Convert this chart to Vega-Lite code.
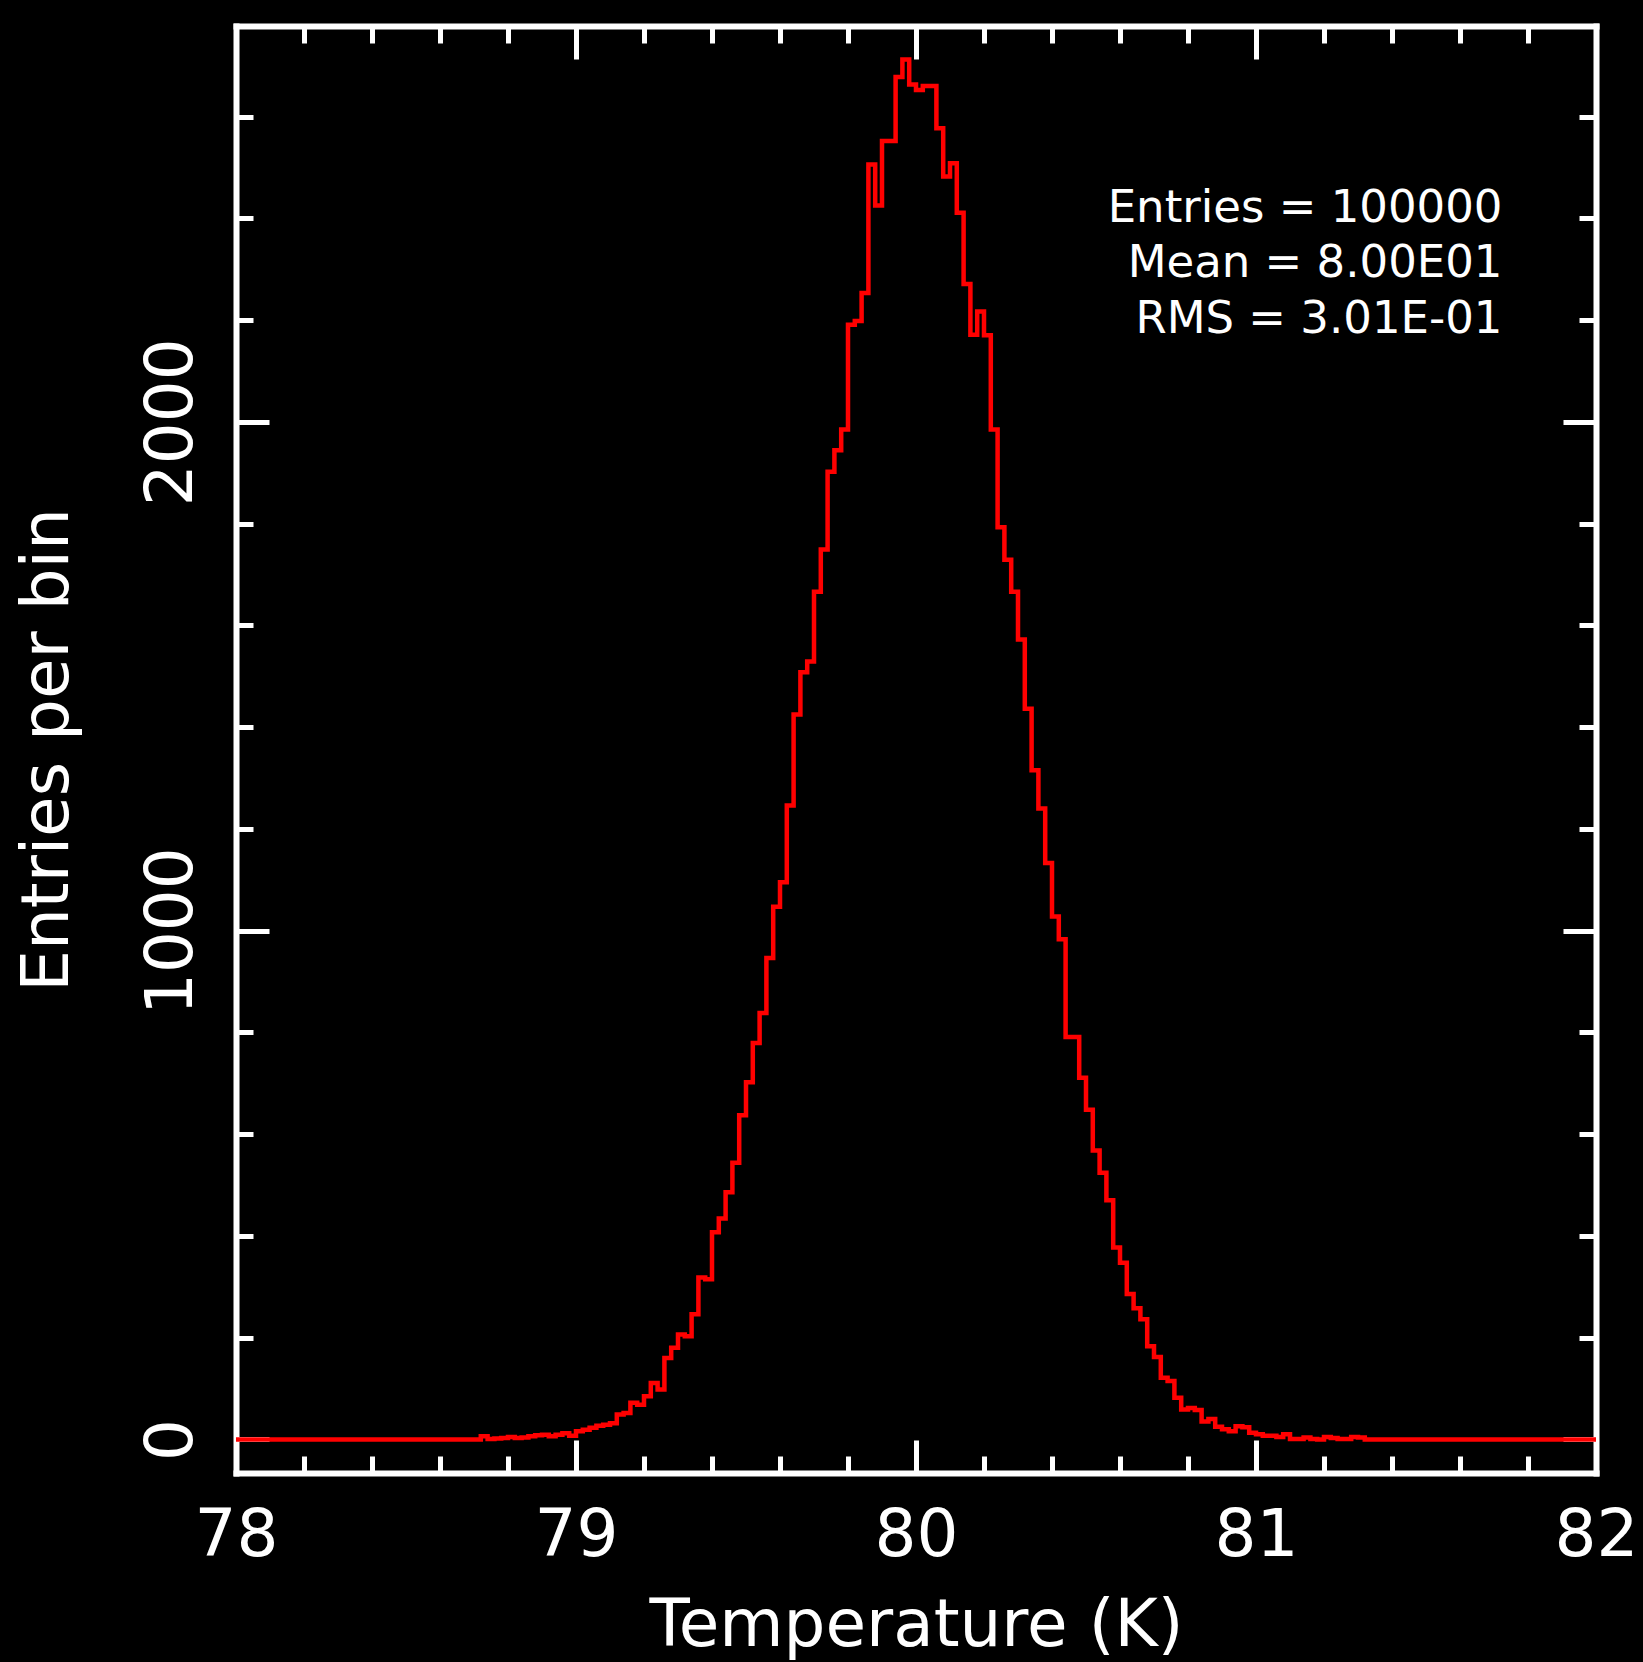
{
  "$schema": "https://vega.github.io/schema/vega-lite/v6.json",
  "width": 1360,
  "height": 1447,
  "autosize": {"type": "none"},
  "padding": {"left": 236, "top": 26, "right": 47, "bottom": 189},
  "background": "black",
  "config": {
    "view": {"stroke": null},
    "axis": {"grid": false, "domainColor": "white", "tickColor": "white", "labelColor": "white", "titleColor": "white", "domainWidth": 6, "tickWidth": 5, "domainCap": "square", "labelFont": "DejaVu Sans", "titleFont": "DejaVu Sans", "labelFontSize": 66, "titleFontSize": 66, "titleFontWeight": "normal", "labelFlush": false, "labelOverlap": false}
  },
  "resolve": {"scale": {"x": "shared", "y": "shared"}, "axis": {"x": "independent", "y": "independent"}},
  "layer": [
    {
      "data": {"name": "hist"},
      "mark": {"type": "line", "interpolate": "step-after", "color": "#ff0000", "strokeWidth": 4.5},
      "encoding": {
        "x": {"field": "temperature", "type": "quantitative", "scale": {"domain": [78, 82], "nice": false, "zero": false},
              "axis": {"orient": "bottom", "values": [78, 79, 80, 81, 82], "format": "d", "tickSize": -33, "labelBaseline": "alphabetic", "labelPadding": 115, "title": "Temperature (K)", "titleBaseline": "alphabetic", "titleY": 172}},
        "y": {"field": "entries", "type": "quantitative", "scale": {"domain": [-66, 2778], "nice": false, "zero": false},
              "axis": {"orient": "left", "values": [0, 1000, 2000], "format": "d", "tickSize": -33, "labelAngle": 270, "labelAlign": "center", "labelBaseline": "alphabetic", "labelPadding": 78, "title": "Entries per bin", "titleAngle": 270, "titleBaseline": "alphabetic", "titleX": -169}}
      }
    },
    {
      "data": {"name": "hist"},
      "mark": {"type": "line", "interpolate": "step-after", "strokeOpacity": 0},
      "encoding": {
        "x": {"field": "temperature", "type": "quantitative",
              "axis": {"orient": "bottom", "values": [78.2, 78.4, 78.6, 78.8, 79.2, 79.4, 79.6, 79.8, 80.2, 80.4, 80.6, 80.8, 81.2, 81.4, 81.6, 81.8], "tickSize": -17, "labels": false, "domain": false, "title": null}},
        "y": {"field": "entries", "type": "quantitative",
              "axis": {"orient": "left", "values": [200, 400, 600, 800, 1200, 1400, 1600, 1800, 2200, 2400, 2600], "tickSize": -17, "labels": false, "domain": false, "title": null}}
      }
    },
    {
      "data": {"name": "hist"},
      "mark": {"type": "line", "interpolate": "step-after", "strokeOpacity": 0},
      "encoding": {
        "x": {"field": "temperature", "type": "quantitative",
              "axis": {"orient": "top", "values": [78, 79, 80, 81, 82], "tickSize": -33, "labels": false, "title": null}},
        "y": {"field": "entries", "type": "quantitative",
              "axis": {"orient": "right", "values": [0, 1000, 2000], "tickSize": -33, "labels": false, "title": null}}
      }
    },
    {
      "data": {"name": "hist"},
      "mark": {"type": "line", "interpolate": "step-after", "strokeOpacity": 0},
      "encoding": {
        "x": {"field": "temperature", "type": "quantitative",
              "axis": {"orient": "top", "values": [78.2, 78.4, 78.6, 78.8, 79.2, 79.4, 79.6, 79.8, 80.2, 80.4, 80.6, 80.8, 81.2, 81.4, 81.6, 81.8], "tickSize": -17, "labels": false, "domain": false, "title": null}},
        "y": {"field": "entries", "type": "quantitative",
              "axis": {"orient": "right", "values": [200, 400, 600, 800, 1200, 1400, 1600, 1800, 2200, 2400, 2600], "tickSize": -17, "labels": false, "domain": false, "title": null}}
      }
    },
    {
      "data": {"values": [{"stats": "Entries = 100000\nMean = 8.00E01\nRMS = 3.01E-01"}]},
      "mark": {"type": "text", "align": "right", "baseline": "alphabetic", "lineBreak": "\n", "lineHeight": 55.5, "font": "DejaVu Sans", "fontSize": 45, "color": "white"},
      "encoding": {
        "x": {"datum": 81.725, "type": "quantitative", "axis": null},
        "y": {"datum": 2393, "type": "quantitative", "axis": null},
        "text": {"field": "stats"}
      }
    }
  ],
  "datasets": {
    "hist": [
      {"temperature": 78.00, "entries": 0}, {"temperature": 78.02, "entries": 0}, {"temperature": 78.04, "entries": 0}, {"temperature": 78.06, "entries": 0},
      {"temperature": 78.08, "entries": 0}, {"temperature": 78.10, "entries": 0}, {"temperature": 78.12, "entries": 0}, {"temperature": 78.14, "entries": 0},
      {"temperature": 78.16, "entries": 0}, {"temperature": 78.18, "entries": 0}, {"temperature": 78.20, "entries": 0}, {"temperature": 78.22, "entries": 0},
      {"temperature": 78.24, "entries": 0}, {"temperature": 78.26, "entries": 0}, {"temperature": 78.28, "entries": 0}, {"temperature": 78.30, "entries": 0},
      {"temperature": 78.32, "entries": 0}, {"temperature": 78.34, "entries": 0}, {"temperature": 78.36, "entries": 0}, {"temperature": 78.38, "entries": 0},
      {"temperature": 78.40, "entries": 0}, {"temperature": 78.42, "entries": 0}, {"temperature": 78.44, "entries": 0}, {"temperature": 78.46, "entries": 0},
      {"temperature": 78.48, "entries": 0}, {"temperature": 78.50, "entries": 0}, {"temperature": 78.52, "entries": 0}, {"temperature": 78.54, "entries": 0},
      {"temperature": 78.56, "entries": 0}, {"temperature": 78.58, "entries": 0}, {"temperature": 78.60, "entries": 0}, {"temperature": 78.62, "entries": 0},
      {"temperature": 78.64, "entries": 0}, {"temperature": 78.66, "entries": 0}, {"temperature": 78.68, "entries": 0}, {"temperature": 78.70, "entries": 0},
      {"temperature": 78.72, "entries": 6}, {"temperature": 78.74, "entries": 1}, {"temperature": 78.76, "entries": 2}, {"temperature": 78.78, "entries": 3},
      {"temperature": 78.80, "entries": 5}, {"temperature": 78.82, "entries": 3}, {"temperature": 78.84, "entries": 4}, {"temperature": 78.86, "entries": 6},
      {"temperature": 78.88, "entries": 8}, {"temperature": 78.90, "entries": 9}, {"temperature": 78.92, "entries": 6}, {"temperature": 78.94, "entries": 9},
      {"temperature": 78.96, "entries": 12}, {"temperature": 78.98, "entries": 7}, {"temperature": 79.00, "entries": 16}, {"temperature": 79.02, "entries": 19},
      {"temperature": 79.04, "entries": 23}, {"temperature": 79.06, "entries": 27}, {"temperature": 79.08, "entries": 29}, {"temperature": 79.10, "entries": 32},
      {"temperature": 79.12, "entries": 49}, {"temperature": 79.14, "entries": 52}, {"temperature": 79.16, "entries": 72}, {"temperature": 79.18, "entries": 68},
      {"temperature": 79.20, "entries": 85}, {"temperature": 79.22, "entries": 111}, {"temperature": 79.24, "entries": 98}, {"temperature": 79.26, "entries": 160},
      {"temperature": 79.28, "entries": 180}, {"temperature": 79.30, "entries": 206}, {"temperature": 79.32, "entries": 203}, {"temperature": 79.34, "entries": 246},
      {"temperature": 79.36, "entries": 318}, {"temperature": 79.38, "entries": 315}, {"temperature": 79.40, "entries": 407}, {"temperature": 79.42, "entries": 434},
      {"temperature": 79.44, "entries": 486}, {"temperature": 79.46, "entries": 544}, {"temperature": 79.48, "entries": 637}, {"temperature": 79.50, "entries": 702},
      {"temperature": 79.52, "entries": 779}, {"temperature": 79.54, "entries": 838}, {"temperature": 79.56, "entries": 946}, {"temperature": 79.58, "entries": 1047},
      {"temperature": 79.60, "entries": 1095}, {"temperature": 79.62, "entries": 1246}, {"temperature": 79.64, "entries": 1425}, {"temperature": 79.66, "entries": 1508},
      {"temperature": 79.68, "entries": 1529}, {"temperature": 79.70, "entries": 1666}, {"temperature": 79.72, "entries": 1749}, {"temperature": 79.74, "entries": 1902},
      {"temperature": 79.76, "entries": 1944}, {"temperature": 79.78, "entries": 1985}, {"temperature": 79.80, "entries": 2191}, {"temperature": 79.82, "entries": 2198},
      {"temperature": 79.84, "entries": 2253}, {"temperature": 79.86, "entries": 2506}, {"temperature": 79.88, "entries": 2425}, {"temperature": 79.90, "entries": 2552},
      {"temperature": 79.92, "entries": 2552}, {"temperature": 79.94, "entries": 2678}, {"temperature": 79.96, "entries": 2712}, {"temperature": 79.98, "entries": 2663},
      {"temperature": 80.00, "entries": 2652}, {"temperature": 80.02, "entries": 2660}, {"temperature": 80.04, "entries": 2660}, {"temperature": 80.06, "entries": 2577},
      {"temperature": 80.08, "entries": 2482}, {"temperature": 80.10, "entries": 2508}, {"temperature": 80.12, "entries": 2411}, {"temperature": 80.14, "entries": 2271},
      {"temperature": 80.16, "entries": 2171}, {"temperature": 80.18, "entries": 2217}, {"temperature": 80.20, "entries": 2170}, {"temperature": 80.22, "entries": 1985},
      {"temperature": 80.24, "entries": 1793}, {"temperature": 80.26, "entries": 1729}, {"temperature": 80.28, "entries": 1666}, {"temperature": 80.30, "entries": 1572},
      {"temperature": 80.32, "entries": 1436}, {"temperature": 80.34, "entries": 1315}, {"temperature": 80.36, "entries": 1240}, {"temperature": 80.38, "entries": 1133},
      {"temperature": 80.40, "entries": 1028}, {"temperature": 80.42, "entries": 983}, {"temperature": 80.44, "entries": 791}, {"temperature": 80.46, "entries": 791},
      {"temperature": 80.48, "entries": 711}, {"temperature": 80.50, "entries": 648}, {"temperature": 80.52, "entries": 568}, {"temperature": 80.54, "entries": 524},
      {"temperature": 80.56, "entries": 470}, {"temperature": 80.58, "entries": 377}, {"temperature": 80.60, "entries": 347}, {"temperature": 80.62, "entries": 286},
      {"temperature": 80.64, "entries": 258}, {"temperature": 80.66, "entries": 236}, {"temperature": 80.68, "entries": 183}, {"temperature": 80.70, "entries": 162},
      {"temperature": 80.72, "entries": 121}, {"temperature": 80.74, "entries": 115}, {"temperature": 80.76, "entries": 82}, {"temperature": 80.78, "entries": 59},
      {"temperature": 80.80, "entries": 62}, {"temperature": 80.82, "entries": 58}, {"temperature": 80.84, "entries": 35}, {"temperature": 80.86, "entries": 40},
      {"temperature": 80.88, "entries": 25}, {"temperature": 80.90, "entries": 20}, {"temperature": 80.92, "entries": 16}, {"temperature": 80.94, "entries": 26},
      {"temperature": 80.96, "entries": 24}, {"temperature": 80.98, "entries": 13}, {"temperature": 81.00, "entries": 10}, {"temperature": 81.02, "entries": 7},
      {"temperature": 81.04, "entries": 7}, {"temperature": 81.06, "entries": 5}, {"temperature": 81.08, "entries": 10}, {"temperature": 81.10, "entries": 1},
      {"temperature": 81.12, "entries": 1}, {"temperature": 81.14, "entries": 4}, {"temperature": 81.16, "entries": 1}, {"temperature": 81.18, "entries": 0},
      {"temperature": 81.20, "entries": 5}, {"temperature": 81.22, "entries": 3}, {"temperature": 81.24, "entries": 1}, {"temperature": 81.26, "entries": 1},
      {"temperature": 81.28, "entries": 5}, {"temperature": 81.30, "entries": 4}, {"temperature": 81.32, "entries": 0}, {"temperature": 81.34, "entries": 0},
      {"temperature": 81.36, "entries": 0}, {"temperature": 81.38, "entries": 0}, {"temperature": 81.40, "entries": 0}, {"temperature": 81.42, "entries": 0},
      {"temperature": 81.44, "entries": 0}, {"temperature": 81.46, "entries": 0}, {"temperature": 81.48, "entries": 0}, {"temperature": 81.50, "entries": 0},
      {"temperature": 81.52, "entries": 0}, {"temperature": 81.54, "entries": 0}, {"temperature": 81.56, "entries": 0}, {"temperature": 81.58, "entries": 0},
      {"temperature": 81.60, "entries": 0}, {"temperature": 81.62, "entries": 0}, {"temperature": 81.64, "entries": 0}, {"temperature": 81.66, "entries": 0},
      {"temperature": 81.68, "entries": 0}, {"temperature": 81.70, "entries": 0}, {"temperature": 81.72, "entries": 0}, {"temperature": 81.74, "entries": 0},
      {"temperature": 81.76, "entries": 0}, {"temperature": 81.78, "entries": 0}, {"temperature": 81.80, "entries": 0}, {"temperature": 81.82, "entries": 0},
      {"temperature": 81.84, "entries": 0}, {"temperature": 81.86, "entries": 0}, {"temperature": 81.88, "entries": 0}, {"temperature": 81.90, "entries": 0},
      {"temperature": 81.92, "entries": 0}, {"temperature": 81.94, "entries": 0}, {"temperature": 81.96, "entries": 0}, {"temperature": 81.98, "entries": 0},
      {"temperature": 82.00, "entries": 0}
    ]
  }
}
